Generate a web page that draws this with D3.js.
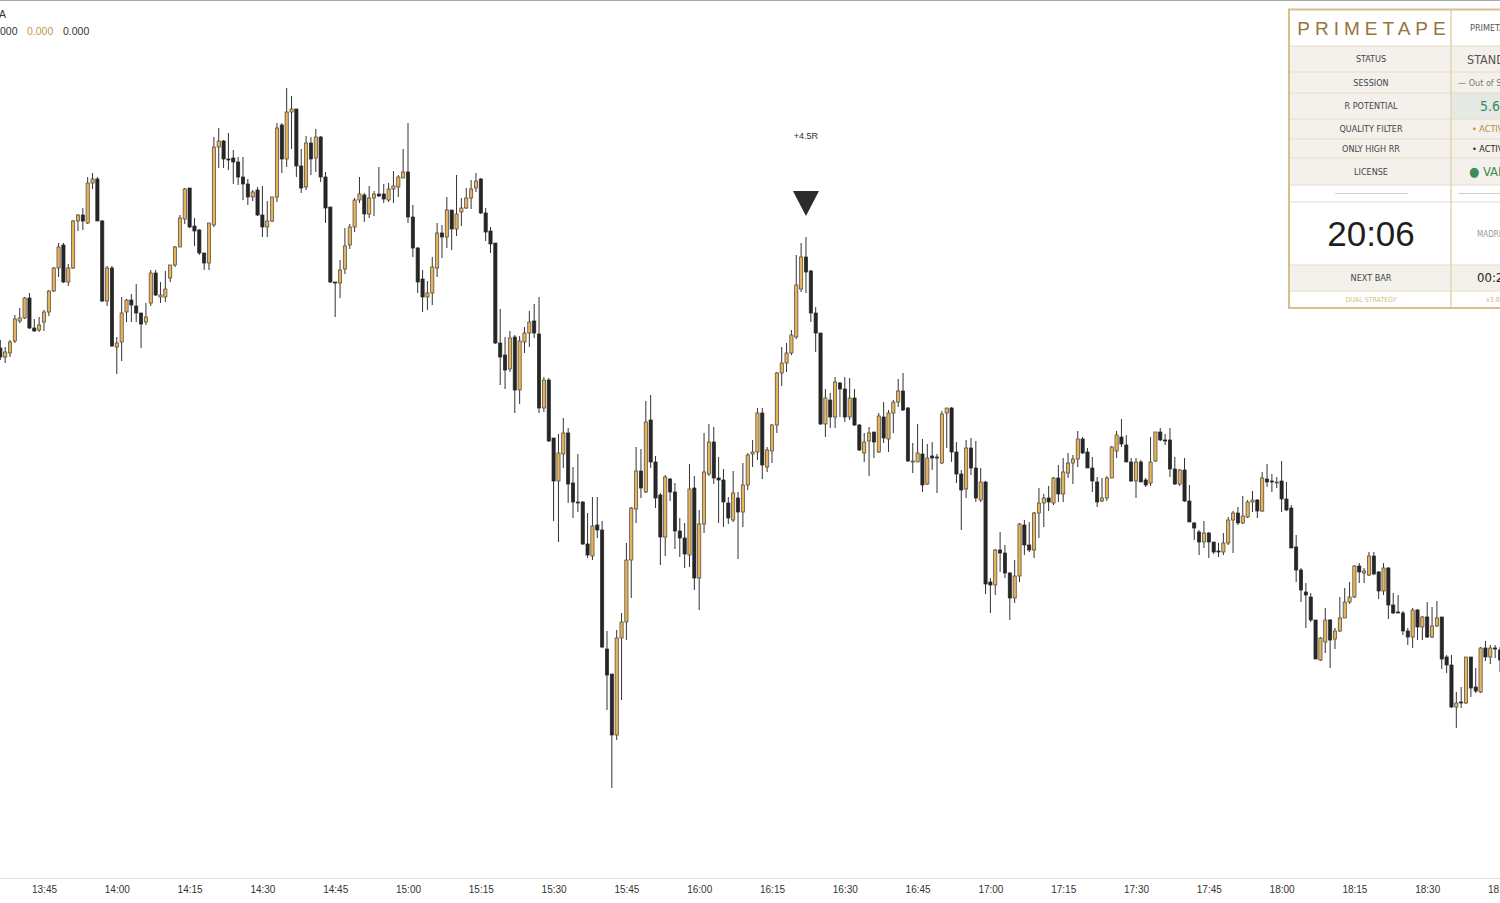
<!DOCTYPE html>
<html>
<head>
<meta charset="utf-8">
<script src="https://cdn.jsdelivr.net/npm/d3@7"></script>
<style>
  body { margin: 0; background: #fff; overflow: hidden; }
  svg { display: block; font-family: "Liberation Sans", "DejaVu Sans", sans-serif; }
</style>
</head>
<body>
<svg id="chart" width="1500" height="903"></svg>
<script>
// 1-minute bars, first bar at 13:36
const open = [
  652,643,647,659,679,682,702,672,670,678, 688,709,732,755,718,732,779,785,777,817,
  821,779,699,732,653,658,688,700,694,687, 678,697,727,703,703,722,735,753,781,812,
  774,770,747,737,775,853,859,841,842,838, 823,816,803,810,785,773,779,803,875,841,
  888,891,834,813,857,842,863,823,793,718, 717,731,755,773,800,805,786,802,806,806,
  800,811,813,822,828,783,752,721,703,707, 732,767,763,790,771,788,792,802,812,821,
  787,769,757,657,645,631,663,610,658,667, 679,666,592,620,562,519,546,567,517,498,
  498,456,444,475,470,351,326,265,362,378, 440,491,529,508,580,538,505,463,521,508,
  469,462,445,512,422,476,526,558,522,520, 497,480,502,488,515,546,548,587,533,549,
  575,627,637,647,663,711,743,729,687,667, 576,600,583,617,611,583,602,575,547,559,
  568,548,583,561,587,598,609,592,539,538, 546,516,544,543,537,587,592,548,526,511,
  552,532,500,518,418,415,450,447,427,402, 424,475,455,450,487,497,502,497,522,506,
  527,537,541,561,548,532,518,499,502,522, 549,563,555,538,519,538,520,517,539,568,
  560,560,531,516,530,499,477,468,458,467, 458,449,448,457,480,487,477,483,498,500,
  489,521,519,518,519,501,492,453,430,408, 403,380,340,358,380,361,369,382,398,403,
  434,427,425,444,428,409,432,395,388,387, 369,363,390,373,383,363,374,383,343,335,
  293,298,297,343,313,308,352,343,352,350
];
const high = [
  660,653,660,685,692,703,707,681,683,690, 710,733,757,757,736,780,786,792,823,827,
  823,780,734,734,663,703,701,706,716,687, 697,730,730,718,729,735,754,785,812,812,
  782,771,747,777,863,872,860,867,850,843, 843,821,810,813,814,799,803,877,877,912,
  904,891,851,864,863,871,864,828,793,718, 740,772,776,802,823,807,814,809,833,816,
  817,829,825,851,877,795,753,730,719,743, 777,775,803,790,825,802,812,820,827,822,
  792,773,757,691,663,669,665,664,673,689, 696,703,623,622,562,566,582,572,533,546,
  499,487,503,503,479,369,326,370,387,457, 493,553,551,599,605,544,507,525,522,517,
  482,477,536,524,490,567,576,573,543,531, 503,529,508,537,547,560,592,592,553,576,
  628,653,657,670,745,757,763,730,693,667, 611,607,623,618,623,622,611,576,567,573,
  568,587,598,590,600,621,627,593,557,576, 561,556,558,546,589,592,593,558,530,560,
  562,559,532,519,422,451,468,455,428,440, 477,480,478,488,512,506,514,523,535,542,
  547,545,569,563,552,543,523,522,524,554, 569,581,565,542,542,540,522,563,568,572,
  566,572,543,531,542,515,478,470,479,468, 458,457,467,483,489,493,504,500,509,501,
  528,536,526,523,539,518,495,465,432,417, 407,380,363,392,381,372,403,412,418,435,
  437,432,448,448,429,437,433,407,405,389, 372,392,391,384,398,393,399,383,345,345,
  308,313,343,343,332,353,359,355,355,353
];
const low = [
  640,637,643,657,677,681,671,668,668,669, 684,708,723,717,714,731,769,770,776,811,
  779,698,694,653,626,639,678,678,678,652, 675,694,704,697,698,718,733,753,776,772,
  754,745,730,730,773,832,832,830,816,815, 800,795,799,784,763,763,778,798,827,833,
  851,823,807,810,825,828,818,777,717,683, 702,726,751,768,797,778,782,784,803,797,
  798,797,803,822,777,743,707,688,690,695, 723,742,752,750,764,774,791,791,808,786,
  759,747,656,615,611,628,587,596,647,653, 662,587,588,558,479,458,532,497,482,488,
  455,442,440,462,352,290,212,260,300,360, 402,477,502,507,532,492,435,444,499,451,
  443,432,433,410,390,467,524,516,477,473, 476,478,441,473,510,533,540,521,528,537,
  567,614,628,645,661,708,707,678,648,575, 563,572,572,583,578,580,574,549,538,524,
  542,547,557,548,567,593,589,538,527,538, 508,515,530,507,536,552,538,517,470,502,
  525,498,498,406,387,405,428,422,380,397, 418,445,448,442,462,473,489,495,498,498,
  522,516,533,546,532,508,493,498,499,522, 542,553,538,518,502,518,513,514,538,559,
  555,523,515,514,498,478,460,445,452,442, 446,443,445,455,447,475,476,482,488,482,
  488,513,508,512,488,489,452,418,398,372, 378,341,339,347,332,351,368,382,396,402,
  417,417,424,425,401,405,381,386,387,365, 355,352,360,360,362,362,373,331,327,292,
  272,292,296,303,307,307,339,336,342,328
];
const close = [
  643,648,658,681,682,702,672,669,675,688, 709,732,753,718,732,779,785,779,817,821,
  779,699,732,654,657,687,700,695,687,676, 683,727,705,705,711,735,753,782,811,773,
  769,747,737,777,853,859,841,840,838,823, 816,803,808,785,773,779,803,872,841,888,
  891,834,812,857,841,863,823,792,718,717, 730,754,773,800,806,786,802,806,804,801,
  811,814,823,828,783,752,718,703,707,733, 767,763,790,771,786,792,802,811,819,787,
  768,756,657,643,630,662,610,659,667,678, 667,592,620,559,519,547,567,516,498,497,
  456,445,474,470,353,325,265,362,378,440, 492,529,512,578,538,502,463,523,508,469,
  462,446,511,422,476,528,558,522,520,498, 482,507,488,515,545,548,587,535,550,575,
  627,637,647,665,715,743,728,687,667,576, 602,583,618,611,583,602,575,550,558,567,
  558,584,562,587,598,609,590,539,539,547, 515,542,542,542,586,592,548,526,510,552,
  532,502,518,416,415,450,447,427,402,424, 476,455,450,487,497,502,498,522,506,528,
  537,541,561,547,532,519,498,502,522,553, 565,556,538,519,538,518,515,538,568,560,
  559,531,516,530,499,478,472,458,467,458, 448,448,457,480,487,477,484,498,500,489,
  522,518,518,518,501,490,452,430,410,405, 380,341,362,380,360,369,382,398,403,434,
  428,429,444,426,409,432,395,387,387,369, 363,390,373,383,363,374,382,341,335,293,
  297,297,343,312,309,352,343,352,351,340
];

// signal marker
const signalBar = 166;
const signalLabel = "+4.5R";

// status panel
const panelTitle = "PRIMETAPE";
const panelLabels = ["STATUS", "SESSION", "R POTENTIAL", "QUALITY FILTER", "ONLY HIGH RR", "LICENSE"];
const panelValues = ["STANDBY", "\u2014 Out of Session", "5.6R", "\u2022 ACTIVE", "\u2022 ACTIVE", "\u25CF VALID"];
const clockText = "20:06";
const clockZone = "MADRID";
const nextBarLabel = "NEXT BAR";
const nextBarValue = "00:24";
const footerLabel = "DUAL STRATEGY";
const footerValue = "v3.0";

// legend values top-left
const legendValues = ["000", "0.000", "0.000"];

const day = (h, m, s) => new Date(2024, 0, 2, h, m, s || 0);
const times = open.map((d, i) => day(13, 36 + i));

const svg = d3.select("#chart"),
    width = +svg.attr("width"),
    height = +svg.attr("height");

const x = d3.scaleTime()
    .domain([day(13, 35, 56), day(18, 45)])
    .range([0, width]);

const y = d3.scaleLinear()
    .domain([d3.min(low), d3.max(high)])
    .range([788, 88]);

// frame line
svg.append("line").attr("x1", 0).attr("x2", width).attr("y1", 0.5).attr("y2", 0.5)
    .attr("stroke", "#a8a8a8");

// candles
const bull = "#e6b25c", bear = "#262626";
const candle = svg.append("g").selectAll("g")
  .data(open.map((o, i) => ({t: times[i], o: o, h: high[i], l: low[i], c: close[i]})))
  .join("g");

candle.append("line")
    .attr("x1", d => x(d.t)).attr("x2", d => x(d.t))
    .attr("y1", d => y(d.h)).attr("y2", d => y(d.l))
    .attr("stroke", "#333").attr("stroke-width", 1);

candle.append("rect")
    .attr("x", d => x(d.t) - 1.6)
    .attr("width", 3.2)
    .attr("y", d => y(Math.max(d.o, d.c)))
    .attr("height", d => Math.max(1, Math.abs(y(d.o) - y(d.c))))
    .attr("fill", d => d.c >= d.o ? bull : bear)
    .attr("stroke", d => d.c >= d.o ? "#4a4338" : bear)
    .attr("stroke-width", 0.7);

// signal
const sx = x(times[signalBar]), sy = y(high[signalBar]) - 21;
svg.append("path")
    .attr("d", d3.line()([[sx - 13, sy - 25], [sx + 13, sy - 25], [sx, sy]]) + "Z")
    .attr("fill", "#2b2b2b");
svg.append("text")
    .attr("x", sx).attr("y", sy - 77)
    .attr("text-anchor", "middle")
    .attr("font-size", 9).attr("fill", "#333")
    .text(signalLabel);

// time axis
const axisG = svg.append("g")
    .attr("transform", "translate(0,878)")
    .call(d3.axisBottom(x)
        .ticks(d3.timeMinute.every(15))
        .tickFormat(d3.timeFormat("%H:%M"))
        .tickSize(0)
        .tickPadding(8));
axisG.select(".domain").attr("stroke", "#e2e2e2");
axisG.selectAll("text").attr("font-size", 10).attr("fill", "#333")
    .attr("font-family", "'Liberation Sans', sans-serif");

// legend top-left
svg.append("text").attr("x", -1).attr("y", 18).attr("font-size", 10.5).attr("fill", "#333").text("A");
const legendX = [0, 27, 63];
svg.append("g").selectAll("text").data(legendValues).join("text")
    .attr("x", (d, i) => legendX[i]).attr("y", 35)
    .attr("font-size", 10.5)
    .attr("fill", (d, i) => i === 1 ? "#c49a48" : "#333")
    .text(d => d);

// status panel
const px = 1289, pw = 240, colX = 1451, lc = 1371;
const panel = svg.append("g");
const rows = [
  {y0: 9.5, y1: 46, bg: "#fff"},
  {y0: 46, y1: 72, bg: "#f4f1ec"},
  {y0: 72, y1: 93, bg: "#f4f1ec"},
  {y0: 93, y1: 119, bg: "#f4f1ec", bg2: "#e4e9e4"},
  {y0: 119, y1: 139, bg: "#f4f1ec"},
  {y0: 139, y1: 158, bg: "#f4f1ec"},
  {y0: 158, y1: 185, bg: "#f4f1ec"},
  {y0: 185, y1: 202, bg: "#fff"},
  {y0: 202, y1: 265, bg: "#fff"},
  {y0: 265, y1: 291, bg: "#f4f1ec"},
  {y0: 291, y1: 308, bg: "#fff"}
];
panel.selectAll("rect.row").data(rows).join("rect")
    .attr("x", px).attr("width", pw)
    .attr("y", d => d.y0).attr("height", d => d.y1 - d.y0)
    .attr("fill", d => d.bg);
panel.selectAll("rect.r2").data(rows.filter(d => d.bg2)).join("rect")
    .attr("x", colX).attr("width", pw)
    .attr("y", d => d.y0).attr("height", d => d.y1 - d.y0)
    .attr("fill", d => d.bg2);
panel.selectAll("line.sep").data(rows.slice(1)).join("line")
    .attr("x1", px).attr("x2", px + pw)
    .attr("y1", d => d.y0).attr("y2", d => d.y0)
    .attr("stroke", "#e8dcc3").attr("stroke-width", 1);
panel.append("line").attr("x1", colX).attr("x2", colX).attr("y1", 9.5).attr("y2", 308)
    .attr("stroke", "#e3d3b2").attr("stroke-width", 1.5);
panel.append("rect").attr("x", px).attr("y", 9.5).attr("width", pw).attr("height", 298.5)
    .attr("fill", "none").attr("stroke", "#d8c08c").attr("stroke-width", 2);

const mid = d => (d.y0 + d.y1) / 2;
const labelFont = "'DejaVu Sans Condensed', 'Liberation Sans Narrow', sans-serif";

panel.append("text").attr("x", lc + 3).attr("y", 35)
    .attr("text-anchor", "middle").attr("font-size", 19)
    .attr("letter-spacing", 5).attr("fill", "#94753a")
    .text(panelTitle);
panel.append("text").attr("x", 1470).attr("y", 31)
    .attr("font-size", 9).attr("fill", "#555").attr("font-family", labelFont)
    .text(panelTitle);

panel.selectAll("text.lab").data(panelLabels).join("text")
    .attr("x", lc).attr("y", (d, i) => mid(rows[i + 1]) + 3)
    .attr("text-anchor", "middle").attr("font-size", 9)
    .attr("font-family", labelFont).attr("fill", "#444")
    .text(d => d);

const valStyle = [
  {x: 1467, size: 12.5, fill: "#555"},
  {x: 1458, size: 9, fill: "#777"},
  {x: 1480, size: 14, fill: "#3e8a5c"},
  {x: 1472, size: 9, fill: "#b8862e"},
  {x: 1472, size: 9, fill: "#222"},
  {x: 1469, size: 13, fill: "#3e8a5c"}
];
panel.selectAll("text.val").data(panelValues).join("text")
    .attr("x", (d, i) => valStyle[i].x)
    .attr("y", (d, i) => mid(rows[i + 1]) + valStyle[i].size * 0.36)
    .attr("font-size", (d, i) => valStyle[i].size)
    .attr("font-family", labelFont)
    .attr("fill", (d, i) => valStyle[i].fill)
    .text(d => d);

// short rules in the spacer row
panel.append("line").attr("x1", 1335).attr("x2", 1408).attr("y1", 193.5).attr("y2", 193.5)
    .attr("stroke", "#cfcfcf");
panel.append("line").attr("x1", 1458).attr("x2", 1500).attr("y1", 193.5).attr("y2", 193.5)
    .attr("stroke", "#cfcfcf");

panel.append("text").attr("x", lc).attr("y", 246)
    .attr("text-anchor", "middle").attr("font-size", 35).attr("fill", "#1e1e1e")
    .text(clockText);
panel.append("text").attr("x", 1477).attr("y", 237)
    .attr("font-size", 8).attr("fill", "#999").attr("font-family", labelFont)
    .text(clockZone);

panel.append("text").attr("x", lc).attr("y", 281)
    .attr("text-anchor", "middle").attr("font-size", 9)
    .attr("font-family", labelFont).attr("fill", "#444")
    .text(nextBarLabel);
panel.append("text").attr("x", 1477).attr("y", 282)
    .attr("font-size", 13).attr("fill", "#222").attr("font-family", labelFont)
    .text(nextBarValue);

panel.append("text").attr("x", lc).attr("y", 301.5)
    .attr("text-anchor", "middle").attr("font-size", 7)
    .attr("font-family", labelFont).attr("fill", "#d9bb80")
    .text(footerLabel);
panel.append("text").attr("x", 1486).attr("y", 301.5)
    .attr("font-size", 7).attr("font-family", labelFont).attr("fill", "#ccb27a")
    .text(footerValue);
</script>
</body>
</html>
